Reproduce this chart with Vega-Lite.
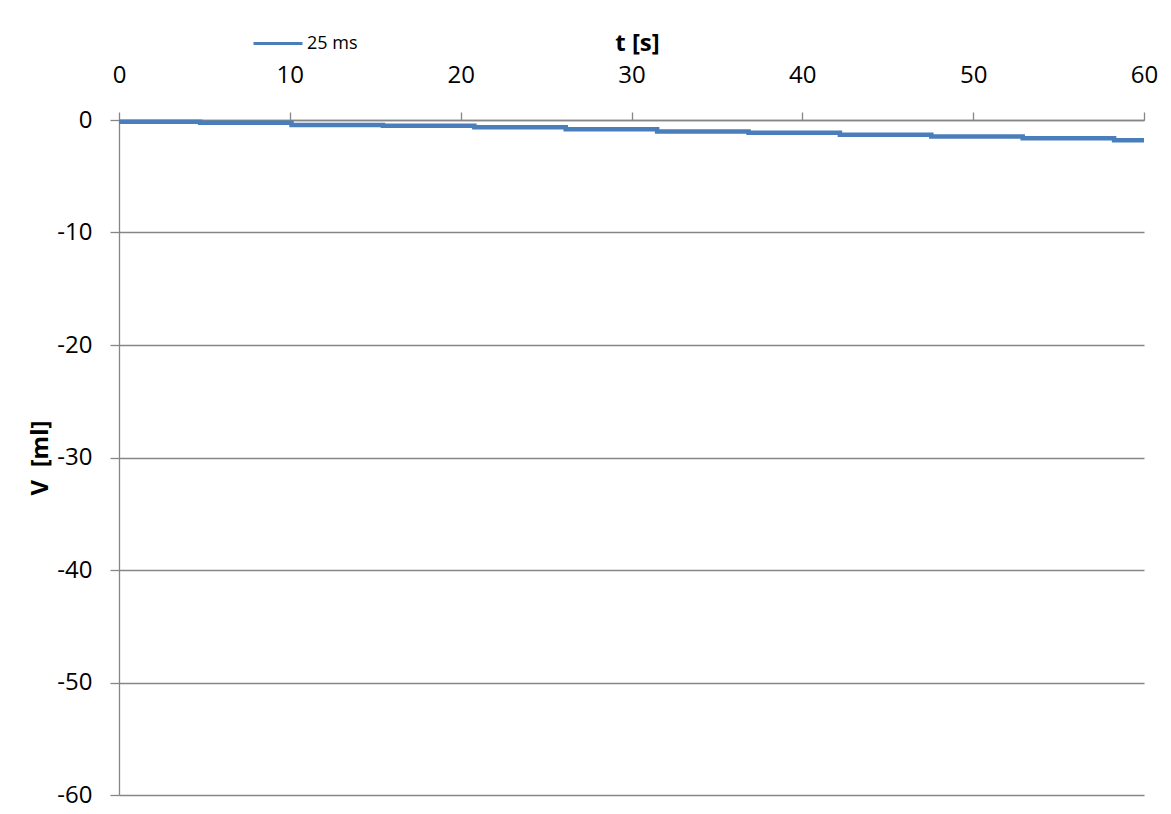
{
  "$schema": "https://vega.github.io/schema/vega-lite/v6.json",
  "autosize": {"type": "none"},
  "width": 1025,
  "height": 675,
  "padding": {"left": 119, "top": 120, "right": 27, "bottom": 19},
  "background": "white",
  "config": {
    "view": {"stroke": null},
    "font": "Open Sans"
  },
  "data": {
    "values": [
      {"t": 0, "V": -0.15, "series": "25 ms"},
      {"t": 4.75, "V": -0.24, "series": "25 ms"},
      {"t": 10.1, "V": -0.44, "series": "25 ms"},
      {"t": 15.45, "V": -0.5, "series": "25 ms"},
      {"t": 20.8, "V": -0.65, "series": "25 ms"},
      {"t": 26.15, "V": -0.83, "series": "25 ms"},
      {"t": 31.5, "V": -1.03, "series": "25 ms"},
      {"t": 36.85, "V": -1.14, "series": "25 ms"},
      {"t": 42.2, "V": -1.3, "series": "25 ms"},
      {"t": 47.55, "V": -1.47, "series": "25 ms"},
      {"t": 52.9, "V": -1.62, "series": "25 ms"},
      {"t": 58.25, "V": -1.8, "series": "25 ms"},
      {"t": 60, "V": -1.8, "series": "25 ms"}
    ]
  },
  "mark": {"type": "line", "interpolate": "step-after", "strokeWidth": 4.5, "clip": false},
  "encoding": {
    "x": {
      "field": "t",
      "type": "quantitative",
      "scale": {"domain": [0, 60], "nice": false},
      "axis": {
        "orient": "top",
        "values": [0, 10, 20, 30, 40, 50, 60],
        "grid": false,
        "labelFlush": false,
        "labelOverlap": false,
        "title": "t [s]",
        "titleFontWeight": "bold",
        "titleFontSize": 24,
        "titleColor": "#000000",
        "titlePadding": 8,
        "titleX": 518,
        "labelFontSize": 24,
        "labelColor": "#000000",
        "labelPadding": 25,
        "tickSize": 8,
        "tickColor": "#868686",
        "domainColor": "#868686",
        "domainWidth": 1.3,
        "tickWidth": 1.3
      }
    },
    "y": {
      "field": "V",
      "type": "quantitative",
      "scale": {"domain": [-60, 0], "nice": false},
      "axis": {
        "values": [0, -10, -20, -30, -40, -50, -60],
        "labelExpr": "toString(datum.value)",
        "grid": true,
        "gridColor": "#868686",
        "gridWidth": 1.3,
        "labelFlush": false,
        "labelOverlap": false,
        "title": "V\u00a0 [ml]",
        "titleFontWeight": "bold",
        "titleFontSize": 24,
        "titleColor": "#000000",
        "titlePadding": 4,
        "labelFontSize": 24,
        "labelColor": "#000000",
        "labelPadding": 18,
        "tickSize": 9,
        "tickColor": "#868686",
        "domainColor": "#868686",
        "domainWidth": 1.3,
        "tickWidth": 1.3
      }
    },
    "color": {
      "field": "series",
      "type": "nominal",
      "scale": {"range": ["#4a7ebb"]},
      "legend": {
        "title": null,
        "orient": "none",
        "legendX": 133,
        "legendY": -102.5,
        "symbolType": "stroke",
        "symbolSize": 2401,
        "symbolStrokeWidth": 3,
        "labelFontSize": 18,
        "labelColor": "#000000",
        "labelOffset": 3
      }
    }
  }
}
